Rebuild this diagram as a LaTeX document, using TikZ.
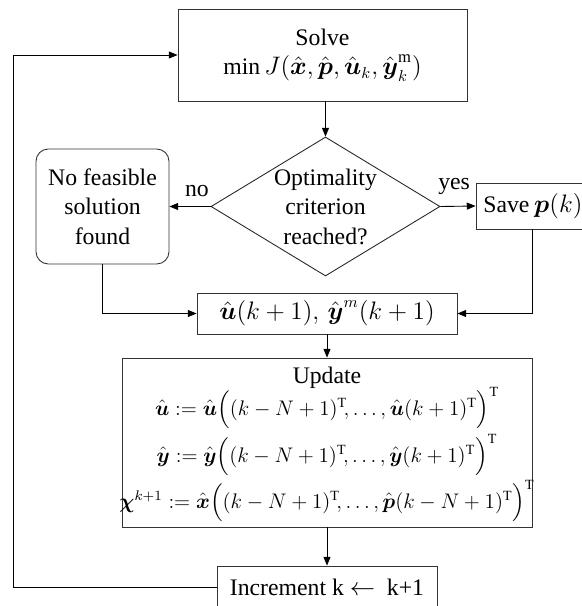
\documentclass[tikz,border=0pt]{standalone}
\usepackage{amsmath}
\usepackage{fontspec}
\setmainfont{Liberation Serif}
\usetikzlibrary{shapes.geometric, arrows.meta}
\tikzset{
    process/.style = {rectangle, inner sep=0pt, align=center, draw=black!80, line width=0.5pt},
    startstop/.style = {rectangle, rounded corners=7pt, inner sep=0pt, align=center, draw=black!80, line width=0.5pt},
    decision/.style = {diamond, inner sep=0pt, minimum width=4.58cm, minimum height=2.78cm, draw=black!85, line width=0.5pt},
    formula/.style = {anchor=base, inner sep=0pt, font=\fontsize{12}{14}\selectfont},
    arrow/.style = {line width=0.5pt, -{Triangle[length=5pt,width=4pt]}}
}
\newcommand{\tp}{^{\mathrm{T}}}

\begin{document}
\begin{tikzpicture}[font=\fontsize{13.5}{16.8}\selectfont]

\useasboundingbox (0,0) rectangle (11.62,-12.12);

% ---- Solve (top) ----
\node[process, minimum width=5.78cm, minimum height=1.84cm] (solve) at (6.45,-1.10) {%
  Solve\\
  $\min J(\hat{\boldsymbol{x}}, \hat{\boldsymbol{p}}, \hat{\boldsymbol{u}}_k, \hat{\boldsymbol{y}}_k^{\mathrm{m}})$%
};

% ---- Decision ----
\node[decision] (optim) at (6.51,-4.13) {};
\node[align=center, inner sep=0pt] (optimtxt) at (optim) {Optimality\\criterion\\reached?};

% ---- No feasible solution (left) ----
\node[startstop, minimum width=2.66cm, minimum height=2.30cm] (nosol) at (2.05,-4.13) {%
  No feasible\\solution\\found%
};

% ---- Save (right) ----
\node[process, minimum width=2.5cm, minimum height=0.92cm] (save) at (10.77,-4.12) {};
\node[anchor=west, inner sep=0pt] (savetxt) at (9.66,-4.12) {Save\hspace{0.2em}$\boldsymbol{p}(k)$};

% ---- Prediction ----
\node[process, minimum width=5.2cm, minimum height=0.82cm] (predict) at (6.54,-6.27) {%
  $\hat{\boldsymbol{u}}(k+1),\, \hat{\boldsymbol{y}}^{m}(k+1)$%
};

% ---- Update ----
\node[process, minimum width=8.2cm, minimum height=3.38cm] (update) at (6.54,-8.85) {};
\node[anchor=base, inner sep=0pt] (upd0) at (6.54,-7.66) {Update};
\node[formula] (upd1) at (6.54,-8.30) {%
  $\hat{\boldsymbol{u}} \mathrel{:=} \hat{\boldsymbol{u}}\Bigl((k-N+1)\tp\!,\ldots,\hat{\boldsymbol{u}}(k+1)\tp\Bigr)\tp$};
\node[formula] (upd2) at (6.54,-9.24) {%
  $\hat{\boldsymbol{y}} \mathrel{:=} \hat{\boldsymbol{y}}\Bigl((k-N+1)\tp\!,\ldots,\hat{\boldsymbol{y}}(k+1)\tp\Bigr)\tp$};
\node[formula] (upd3) at (6.54,-10.16) {%
  $\boldsymbol{\chi}^{k+1} \mathrel{:=} \hat{\boldsymbol{x}}\Bigl((k-N+1)\tp\!,\ldots,\hat{\boldsymbol{p}}(k-N+1)\tp\Bigr)\tp$};

% ---- Increment (bottom) ----
\node[process, minimum width=4.4cm, minimum height=0.84cm] (incr) at (6.54,-11.74) {%
  Increment k $\leftarrow$\ \ k+1%
};

\coordinate (loop) at (0.26,-11.74);

% ---- Arrows ----
\draw[arrow] (solve.south -| optim.north) -- (optim.north);
\draw[arrow] (optim.west) -- (nosol.east) node[pos=0.33, above=2pt] {no};
\draw[arrow] (optim.east) -- (save.west) node[pos=0.39, above=3pt] {yes};
\draw[arrow] (nosol.south) |- (predict.west);
\draw[arrow] (savetxt.south |- save.south) |- (predict.east);
\draw[arrow] (predict.south) -- (update.north);
\draw[arrow] (update.south) -- (incr.north);
\draw[arrow] (incr.west) -- (loop) |- (solve.west);

\end{tikzpicture}
\end{document}
